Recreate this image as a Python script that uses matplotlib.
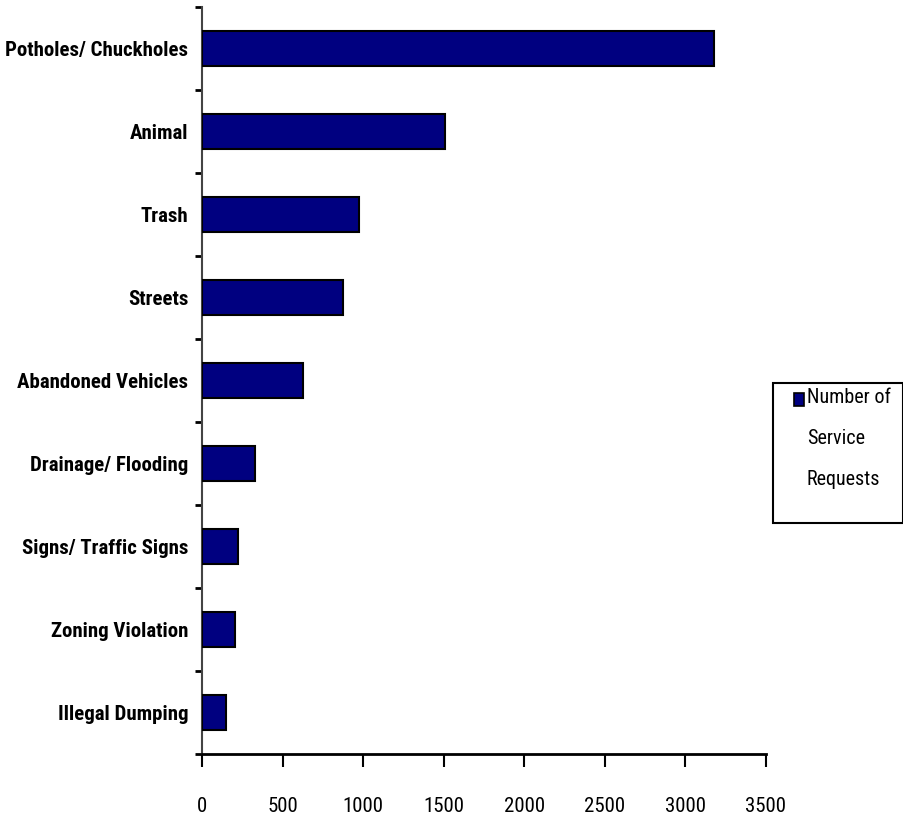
import matplotlib
matplotlib.use("Agg")
import matplotlib.pyplot as plt
from matplotlib.patches import Rectangle

# service request counts by category
categories = [
    "Potholes/ Chuckholes",
    "Animal",
    "Trash",
    "Streets",
    "Abandoned Vehicles",
    "Drainage/ Flooding",
    "Signs/ Traffic Signs",
    "Zoning Violation",
    "Illegal Dumping",
]
requests = [3180, 1510, 975, 875, 625, 330, 225, 205, 150]
xticks = [0, 500, 1000, 1500, 2000, 2500, 3000, 3500]
series_label = "Number of\nService\nRequests"

NAVY = "#000080"
FONT = ["Roboto Condensed", "Liberation Sans", "DejaVu Sans"]
plt.rcParams["font.family"] = FONT

fig = plt.figure(figsize=(9.04, 8.24), dpi=100)
ax = fig.add_axes([0.2235, 0.085, 0.6235, 0.9065])

pos = list(range(len(categories)))
ax.barh(pos, requests, height=0.43, color=NAVY, edgecolor="black",
        linewidth=1.5, zorder=3)

ax.set_xlim(0, 3500)
ax.set_ylim(len(categories) - 0.5, -0.5)

# ticks between categories, labels centred on the bars
ax.set_yticks([p - 0.5 for p in pos] + [len(categories) - 0.5])
ax.set_yticklabels([])
ax.set_yticks(pos, minor=True)
ax.set_yticklabels(categories, minor=True, fontsize=15, fontweight="bold")
ax.tick_params(axis="y", which="major", length=5, width=2, direction="out")
ax.tick_params(axis="y", which="minor", length=0, pad=10)

ax.set_xticks(xticks)
ax.set_xticklabels([str(v) for v in xticks], fontsize=15)
ax.tick_params(axis="x", length=9, width=1.5, direction="out", pad=22)

for side in ("top", "right"):
    ax.spines[side].set_visible(False)
ax.spines["left"].set_color("#444444")
ax.spines["left"].set_linewidth(1.5)
ax.spines["bottom"].set_color("black")
ax.spines["bottom"].set_linewidth(2)

# legend box drawn in figure coordinates
fig.add_artist(Rectangle((0.855, 0.3653), 0.144, 0.170, transform=fig.transFigure,
                         facecolor="white", edgecolor="black", linewidth=1.5))
fig.add_artist(Rectangle((0.8783, 0.5075), 0.0111, 0.0158, transform=fig.transFigure,
                         facecolor=NAVY, edgecolor="black", linewidth=1.2))
fig.text(0.8925, 0.529, series_label, fontsize=14.5, va="top", ha="left",
         linespacing=2.45)

fig.savefig("out.png", dpi=100)
